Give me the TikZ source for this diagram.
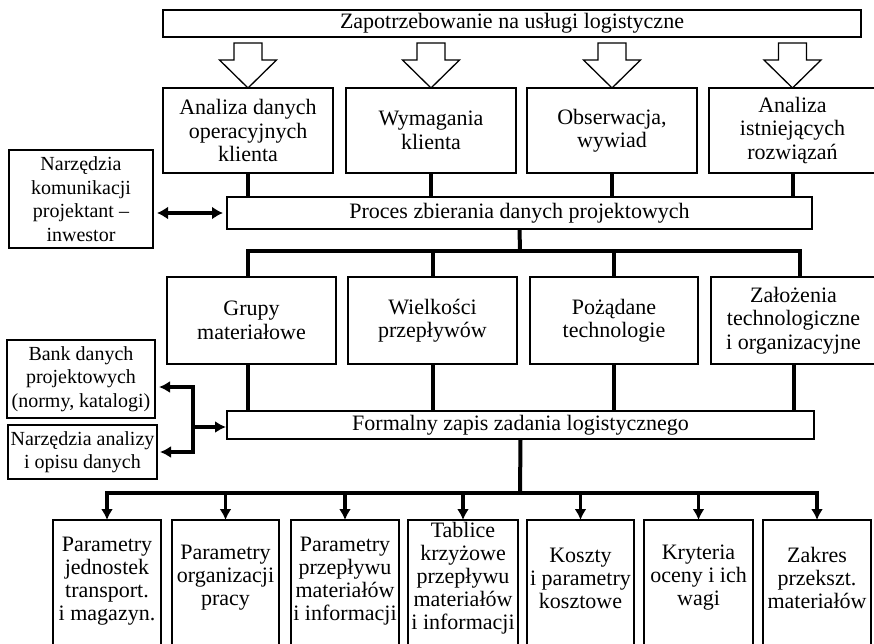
\documentclass[tikz,border=0pt]{standalone}
\usepackage{fontspec}
\setmainfont{Liberation Serif}
\usetikzlibrary{arrows.meta,calc}
\begin{document}
\begin{tikzpicture}[x=1pt,y=-1pt,
  box/.style={draw=black,line width=1.8pt,fill=white,inner sep=0pt,outer sep=0pt,align=center,font=\fontsize{22}{23.5}\selectfont},
  sbox/.style={box,font=\fontsize{20}{23.5}\selectfont},
  frame/.style={inner sep=0pt,outer sep=0pt,minimum height=114pt},
  tbox/.style={inner sep=0pt,outer sep=0pt,align=center,font=\fontsize{22}{23}\selectfont},
  bord/.style={draw=black,line width=1.8pt},
  conn/.style={line width=4pt,line join=miter},
  arrowc/.style={line width=3.5pt,line join=miter,-{Latex[length=11pt,width=12pt]}},
  dblarrow/.style={line width=3.5pt,{Latex[length=11pt,width=13pt]}-{Latex[length=11pt,width=13pt]}},
  hollow/.style={draw=black,line width=1.3pt,fill=white,line join=miter},
]
\clip (0,0) rectangle (874,643);
\fill[white] (0,0) rectangle (874,643);

% top
\node[box,minimum width=698pt,minimum height=27pt] (top) at (512,23.5) {Zapotrzebowanie na usługi logistyczne};

% row 1
\node[box,minimum width=170pt,minimum height=85pt] (r1a) at (248,130.5) {Analiza danych\\operacyjnych\\klienta};
\node[box,minimum width=170pt,minimum height=85pt] (r1b) at (431,130.5) {Wymagania\\klienta};
\node[box,minimum width=170pt,minimum height=85pt] (r1c) at (612,130.5) {Obserwacja,\\wywiad};
\node[box,minimum width=167pt,minimum height=85pt] (r1d) at (792.5,130.5) {Analiza\\istniejących\\rozwiązań};

% hollow arrows
\foreach \b in {r1a,r1b,r1c,r1d}{
  \draw[hollow] (\b.north) -- ++(-28.5,-28) -- ++(14.5,0) -- ++(0,-17) -- ++(28,0) -- ++(0,17) -- ++(14.5,0) -- cycle;
}

% process box
\node[box,minimum width=585pt,minimum height=32pt] (proc) at (519.5,213) {Proces zbierania danych projektowych};
\node[sbox,minimum width=144pt,minimum height=98pt] (nk) at (81,199) {Narzędzia\\komunikacji\\projektant –\\inwestor};

\foreach \b in {r1a,r1b,r1c,r1d}{
  \draw[conn] (\b.south) -- (\b.south |- proc.north);
}
\draw[dblarrow,shorten <=4pt,shorten >=4pt] (nk.east |- proc.west) -- (proc.west);

% row 2
\node[box,minimum width=169pt,minimum height=87pt] (r2a) at (251.5,320.5) {Grupy\\materiałowe};
\node[box,minimum width=169pt,minimum height=87pt] (r2b) at (432.5,320.5) {Wielkości\\przepływów};
\node[box,minimum width=168pt,minimum height=87pt] (r2c) at (614,320.5) {Pożądane\\technologie};
\node[box,minimum width=165pt,minimum height=87pt] (r2d) at (793.5,320.5) {Założenia\\technologiczne\\i organizacyjne};

\coordinate (barA) at (520,251);
\draw[conn] (proc.south) -- (barA);
\draw[conn] ([xshift=-3.5pt]r2a.north) |- (barA) -| ([xshift=6.5pt]r2d.north);
\draw[conn] (r2b.north) -- (r2b.north |- barA);
\draw[conn] (r2c.north) -- (r2c.north |- barA);

% formal box
\node[box,minimum width=587pt,minimum height=28pt] (form) at (520.5,425) {Formalny zapis zadania logistycznego};

\draw[conn] ([xshift=-3.5pt]r2a.south) -- ([xshift=-3.5pt]r2a.south |- form.north);
\draw[conn] (r2b.south) -- (r2b.south |- form.north);
\draw[conn] (r2c.south) -- (r2c.south |- form.north);
\draw[conn] (r2d.south) -- (r2d.south |- form.north);

% left boxes
\node[sbox,minimum width=148pt,minimum height=78pt] (bank) at (81,379) {Bank danych\\projektowych\\(normy, katalogi)};
\node[sbox,minimum width=149pt,minimum height=54pt] (nad) at (82.5,452) {Narzędzia analizy\\i opisu danych};

\coordinate (jmid) at (193,427);
\coordinate (jtop) at (193,387);
\coordinate (jbot) at (193,452);
\draw[arrowc,shorten >=4pt] (jmid) |- (bank.east |- jtop);
\draw[arrowc,shorten >=3pt] (jmid) |- (nad.east |- jbot);
\draw[arrowc,shorten >=1pt] (jmid) -- (form.west |- jmid);

% bottom boxes (frames open at the bottom, cut by the page edge)
\node[frame,minimum width=108pt] (b1) at (107,577) {};
\node[frame,minimum width=107pt] (b2) at (225.5,577) {};
\node[frame,minimum width=108pt] (b3) at (345,577) {};
\node[frame,minimum width=110pt] (b4) at (463,577) {};
\node[frame,minimum width=107pt] (b5) at (580.5,577) {};
\node[frame,minimum width=109pt] (b6) at (698.5,577) {};
\node[frame,minimum width=108pt] (b7) at (817,577) {};

\foreach \b in {b1,b2,b3,b4,b5,b6,b7}{
  \draw[bord] ([yshift=-40pt]\b.south west) |- (\b.north east) -- ([yshift=-40pt]\b.south east);
}

\node[tbox] (t1) at ([yshift=-4pt]b1.center) {Parametry\\jednostek\\transport.\\i magazyn.};
\node[tbox] (t2) at ([yshift=-1pt]b2.center) {Parametry\\organizacji\\pracy};
\node[tbox] (t3) at ([yshift=-4pt]b3.center) {Parametry\\przepływu\\materiałów\\i informacji};
\node[tbox] (t4) at ([yshift=-1pt]b4.center) {Tablice\\krzyżowe\\przepływu\\materiałów\\i informacji};
\node[tbox] (t5) at ([yshift=-1pt]b5.center) {Koszty\\i parametry\\kosztowe};
\node[tbox] (t6) at ([yshift=-1pt]b6.center) {Kryteria\\oceny i ich\\wagi};
\node[tbox] (t7) at ([yshift=-1pt]b7.center) {Zakres\\przekszt.\\materiałów};

\coordinate (barB) at (520,493);
\draw[conn] (form.south) -- (barB);
\draw[line width=3.5pt] ([xshift=-1.75pt]b1.north |- barB) -- ([xshift=1.75pt]b7.north |- barB);
\foreach \b in {b1,b2,b3,b4,b5,b6,b7}{
  \draw[arrowc] (\b.north |- barB) -- (\b.north);
}
\end{tikzpicture}
\end{document}
